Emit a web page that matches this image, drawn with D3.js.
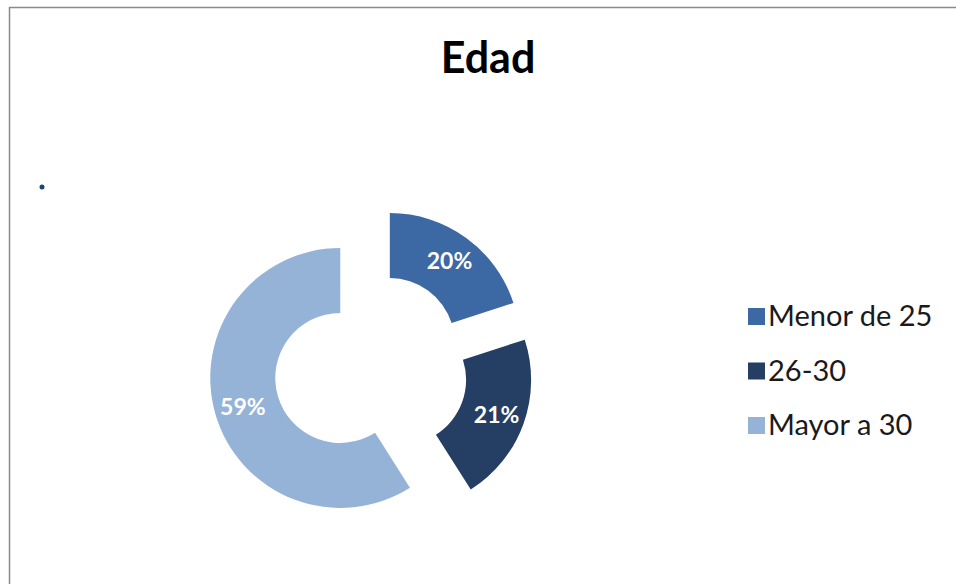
<!DOCTYPE html>
<html>
<head>
<meta charset="utf-8">
<script src="https://cdn.jsdelivr.net/npm/d3@7"></script>
<style>
  body { margin: 0; background: #fff; }
  svg { display: block; font-family: Lato, "Open Sans", sans-serif; }
</style>
</head>
<body>
<svg id="chart" width="956" height="584"></svg>
<script>
// data
const categories = ["Menor de 25", "26-30", "Mayor a 30"];
const values = [20, 21, 59];
const labels = ["20%", "21%", "59%"];
const colors = ["#3C68A4", "#243E64", "#95B3D7"];

const svg = d3.select("#chart");

// chart frame (runs off the right/bottom of the image)
svg.append("rect")
  .attr("x", 9.5).attr("y", 7.5)
  .attr("width", 1000).attr("height", 1000)
  .attr("fill", "#fff")
  .attr("stroke", "#8a8a8a")
  .attr("stroke-width", 1.5);

// title
svg.append("text")
  .attr("x", 488).attr("y", 73)
  .attr("text-anchor", "middle")
  .attr("font-size", 43)
  .attr("font-weight", "bold")
  .attr("fill", "#000")
  .text("Edad");

// stray dot at the left
svg.append("circle")
  .attr("cx", 42).attr("cy", 187).attr("r", 2.5)
  .attr("fill", "#1F4478");

const cx = 371, cy = 369;
const outerR = 130, innerR = 65, explode = 32;

const pie = d3.pie().sort(null).value(d => d);
const arcs = pie(values);
const arc = d3.arc().innerRadius(innerR).outerRadius(outerR);

const g = svg.append("g").attr("transform", `translate(${cx},${cy})`);

const slices = g.selectAll("g.slice")
  .data(arcs)
  .join("g")
    .attr("class", "slice")
    .attr("transform", d => {
      const a = (d.startAngle + d.endAngle) / 2;
      return `translate(${explode * Math.sin(a)},${-explode * Math.cos(a)})`;
    });

slices.append("path")
  .attr("d", arc)
  .attr("fill", (d, i) => colors[i]);

slices.append("text")
  .attr("transform", d => {
    const a = (d.startAngle + d.endAngle) / 2;
    const m = (innerR + outerR) / 2 + 4;
    return `translate(${m * Math.sin(a)},${-m * Math.cos(a)})`;
  })
  .attr("text-anchor", "middle")
  .attr("dy", "0.36em")
  .attr("font-size", 23)
  .attr("font-weight", "bold")
  .attr("fill", "#fff")
  .text((d, i) => labels[i]);

// legend
const legendY = d3.scalePoint().domain(categories).range([316, 425]);

const legend = svg.append("g")
  .selectAll("g")
  .data(categories)
  .join("g")
    .attr("transform", d => `translate(748,${legendY(d)})`);

legend.append("rect")
  .attr("x", 0).attr("y", -8)
  .attr("width", 17).attr("height", 17)
  .attr("fill", (d, i) => colors[i]);

legend.append("text")
  .attr("x", 20).attr("dy", "0.36em")
  .attr("font-size", 29)
  .attr("fill", "#1a1a1a")
  .text(d => d);
</script>
</body>
</html>
